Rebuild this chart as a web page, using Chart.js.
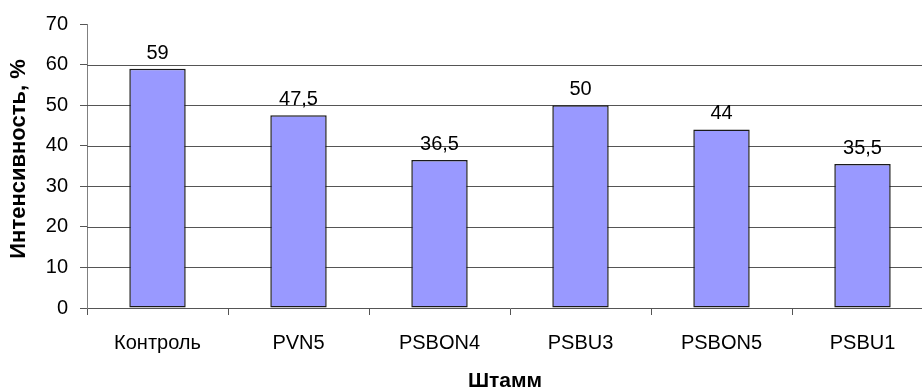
<!DOCTYPE html>
<html>
<head>
<meta charset="utf-8">
<script src="https://cdn.jsdelivr.net/npm/chart.js@4/dist/chart.umd.min.js"></script>
<style>
  html, body { margin: 0; padding: 0; overflow: hidden; background: #fff; }
  canvas { display: block; }
</style>
</head>
<body>
<canvas id="c" width="934" height="405"></canvas>
<script>
// Intensity by strain
const strains = ['Контроль', 'PVN5', 'PSBON4', 'PSBU3', 'PSBON5', 'PSBU1'];
const intensity = [59, 47.5, 36.5, 50, 44, 35.5];
const yTicks = [0, 10, 20, 30, 40, 50, 60, 70];
const xTitle = 'Штамм';
const yTitle = 'Интенсивность, %';

const FONT = '"Liberation Sans", Arial, sans-serif';

// Horizontal grid lines inside the plot (none on the top edge)
const gridPlugin = {
  id: 'innerGrid',
  beforeDatasetsDraw(chart) {
    const { ctx, chartArea, scales } = chart;
    const y = scales.y;
    ctx.save();
    ctx.strokeStyle = '#555';
    ctx.lineWidth = 1;
    yTicks.forEach(v => {
      if (v === yTicks[0] || v === yTicks[yTicks.length - 1]) return;
      const py = Math.round(y.getPixelForValue(v)) + 0.5;
      ctx.beginPath();
      ctx.moveTo(chartArea.left, py);
      ctx.lineTo(chartArea.right, py);
      ctx.stroke();
    });
    ctx.restore();
  }
};

// Value labels above the bars and axis titles
const labelPlugin = {
  id: 'labels',
  afterDatasetsDraw(chart) {
    const { ctx } = chart;
    const meta = chart.getDatasetMeta(0);
    ctx.save();
    ctx.fillStyle = '#000';
    ctx.font = '20px ' + FONT;
    ctx.textAlign = 'center';
    ctx.textBaseline = 'alphabetic';
    meta.data.forEach((bar, i) => {
      const txt = String(intensity[i]).replace('.', ',');
      ctx.fillText(txt, bar.x, bar.y - 10);
    });

    ctx.font = 'bold 21px ' + FONT;
    ctx.textBaseline = 'middle';
    ctx.fillText(xTitle, 505, 381);

    ctx.translate(19, 159);
    ctx.rotate(-Math.PI / 2);
    ctx.font = 'bold 22px ' + FONT;
    ctx.fillText(yTitle, 0, 0);
    ctx.restore();
  }
};

new Chart(document.getElementById('c'), {
  type: 'bar',
  data: {
    labels: strains,
    datasets: [{
      data: intensity,
      backgroundColor: '#9999ff',
      borderColor: '#1a1a1a',
      borderWidth: 1.5,
      borderSkipped: false,
      categoryPercentage: 1,
      barPercentage: 0.4
    }]
  },
  options: {
    responsive: false,
    animation: false,
    devicePixelRatio: 1,
    layout: { padding: { top: 24, right: 1, left: 0, bottom: 0 } },
    plugins: { legend: { display: false }, tooltip: { enabled: false } },
    scales: {
      x: {
        grid: { offset: true, drawOnChartArea: false, tickLength: 7, color: '#555' },
        border: { color: '#555' },
        ticks: { color: '#000', font: { size: 20, family: FONT }, padding: 16, maxRotation: 0, autoSkip: false },
        afterFit(s) { s.height = 97; }
      },
      y: {
        min: 0,
        max: 70,
        afterBuildTicks(s) { s.ticks = yTicks.map(v => ({ value: v })); },
        grid: { drawOnChartArea: false, tickLength: 7, color: '#555' },
        border: { color: '#808080' },
        ticks: { color: '#000', font: { size: 20, family: FONT }, padding: 12 },
        afterFit(s) { s.width = 87; }
      }
    }
  },
  plugins: [gridPlugin, labelPlugin]
});
</script>
</body>
</html>
